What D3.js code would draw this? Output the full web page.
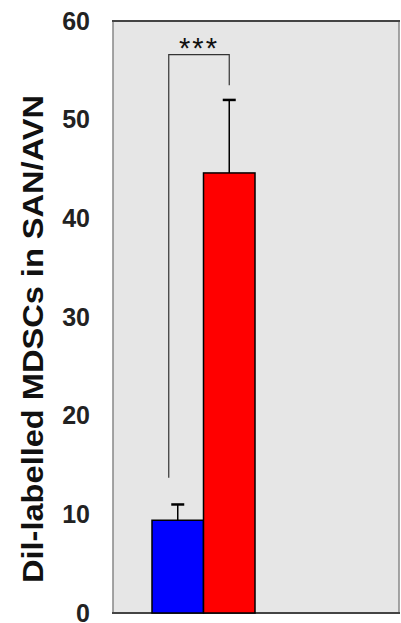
<!DOCTYPE html>
<html>
<head>
<meta charset="utf-8">
<script src="https://cdn.jsdelivr.net/npm/d3@7"></script>
<style>
  body { margin: 0; background: #fff; }
  svg { display: block; font-family: "Liberation Sans", Arial, sans-serif; }
</style>
</head>
<body>
<div id="chart"></div>
<script>
// data
var groups = ["Control", "MDSC"]
var means = [9.4, 44.6]
var errs = [1.6, 7.4]
var colors = ["#0000ff", "#ff0000"]
var yTicks = [0, 10, 20, 30, 40, 50, 60]
var yLabel = "Dil-labelled MDSCs in SAN/AVN"
var sigText = "***"

let svg = d3.select("#chart")
    .append("svg")
    .attr("width", 401)
    .attr("height", 623)

var y = d3.scaleLinear()
    .domain([0, 60])
    .range([613, 21])

var x = d3.scaleBand()
    .domain(groups)
    .range([152, 255])
    .padding(0)

// plot area
svg.append("rect")
    .attr("x", 113)
    .attr("y", y(60))
    .attr("width", 286)
    .attr("height", y(0) - y(60))
    .attr("fill", "#e6e6e6")
    .attr("stroke", "#888")
    .attr("stroke-width", 1.5)
svg.append("line")
    .attr("x1", 112).attr("x2", 400)
    .attr("y1", y(60)).attr("y2", y(60))
    .attr("stroke", "#444").attr("stroke-width", 2)
svg.append("line")
    .attr("x1", 112).attr("x2", 400)
    .attr("y1", y(0)).attr("y2", y(0))
    .attr("stroke", "#444").attr("stroke-width", 2)

// y axis labels (no tick marks)
let yAxis = svg.append("g")
    .attr("transform", "translate(112,0)")
    .call(d3.axisLeft(y).tickValues(yTicks).tickSize(0).tickPadding(22))
yAxis.select(".domain").remove()
yAxis.selectAll("text")
    .style("font-size", "25px")
    .style("font-weight", "bold")
    .attr("fill", "#222")

svg.append("text")
    .attr("transform", "rotate(-90)")
    .attr("x", -339)
    .attr("y", 43)
    .attr("text-anchor", "middle")
    .attr("textLength", 488)
    .attr("lengthAdjust", "spacingAndGlyphs")
    .style("font-size", "29px")
    .style("font-weight", "bold")
    .attr("fill", "#111")
    .text(yLabel)

// error bars
let eb = svg.append("g")
groups.forEach(function(g, i) {
    var cx = x(g) + x.bandwidth() / 2
    eb.append("line")
        .attr("x1", cx).attr("x2", cx)
        .attr("y1", y(means[i])).attr("y2", y(means[i] + errs[i]))
        .attr("stroke", "#000").attr("stroke-width", 1.5)
    eb.append("line")
        .attr("x1", cx - 6.5).attr("x2", cx + 6.5)
        .attr("y1", y(means[i] + errs[i])).attr("y2", y(means[i] + errs[i]))
        .attr("stroke", "#000").attr("stroke-width", 2.5)
})

// bars
svg.append("g")
    .selectAll("rect")
    .data(groups)
    .join("rect")
    .attr("x", d => x(d))
    .attr("width", x.bandwidth())
    .attr("y", (d, i) => y(means[i]))
    .attr("height", (d, i) => y(0) - y(means[i]))
    .attr("fill", (d, i) => colors[i])
    .attr("stroke", "#000")
    .attr("stroke-width", 1.5)

// significance bracket
var bx1 = x(groups[0]) + x.bandwidth() / 2 - 9
var bx2 = x(groups[1]) + x.bandwidth() / 2
var bTop = y(56.6)
svg.append("path")
    .attr("d", "M" + bx1 + "," + y(13.7) + "V" + bTop + "H" + bx2 + "V" + y(53.5))
    .attr("fill", "none")
    .attr("stroke", "#333")
    .attr("stroke-width", 1.2)
svg.append("text")
    .attr("x", (bx1 + bx2) / 2)
    .attr("y", bTop + 3)
    .attr("text-anchor", "middle")
    .attr("letter-spacing", 2)
    .style("font-size", "29px")
    .attr("fill", "#111")
    .text(sigText)
</script>
</body>
</html>
